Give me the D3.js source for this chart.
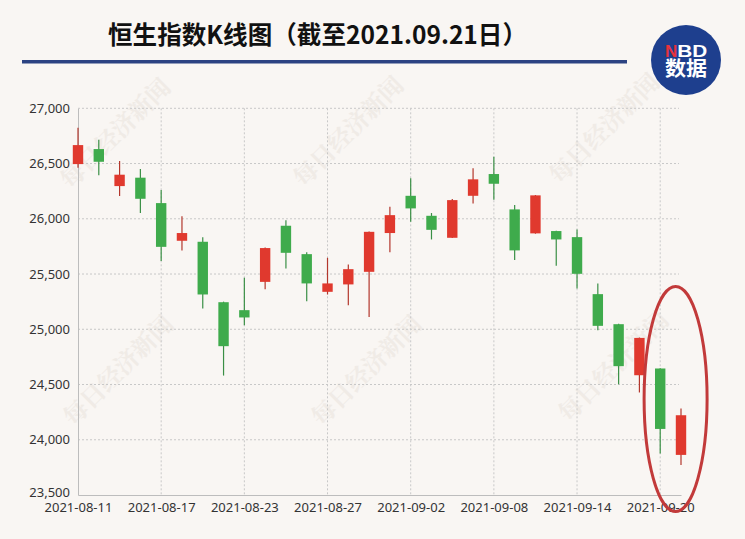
<!DOCTYPE html>
<html>
<head>
<meta charset="utf-8">
<script src="https://cdn.jsdelivr.net/npm/d3@7"></script>
<style>
  html, body { margin: 0; padding: 0; background: #f9f6f3; }
  svg { display: block; }
</style>
</head>
<body>
<svg id="chart" width="745" height="539"></svg>
<script>
// ---- data ----
const dates = ["2021-08-11","2021-08-12","2021-08-13","2021-08-16","2021-08-17","2021-08-18","2021-08-19","2021-08-20",
  "2021-08-23","2021-08-24","2021-08-25","2021-08-26","2021-08-27","2021-08-30","2021-08-31","2021-09-01",
  "2021-09-02","2021-09-03","2021-09-06","2021-09-07","2021-09-08","2021-09-09","2021-09-10","2021-09-13",
  "2021-09-14","2021-09-15","2021-09-16","2021-09-17","2021-09-20","2021-09-21"];
const openV  = [26495,26631,26296,26372,26142,25801,25792,25245,25173,25429,25937,25680,25339,25406,25520,25871,
  26208,26027,25828,26208,26405,26085,25868,25889,25834,25318,25046,24584,24645,23863];
const closeV = [26667,26516,26399,26181,25746,25871,25315,24847,25107,25735,25692,25415,25415,25544,25882,26033,
  26094,25900,26169,26357,26317,25714,26212,25813,25502,25031,24666,24922,24098,24222];
const highV  = [26824,26716,26523,26450,26260,26024,25834,25250,25466,25740,25986,25698,25647,25587,25885,26109,
  26366,26052,26178,26457,26562,26124,26215,25892,25904,25415,25050,24925,24648,24283];
const lowV   = [26462,26393,26206,26052,25617,25714,25188,24581,25037,25363,25551,25254,25315,25218,25112,25696,
  25973,25813,25826,26139,26172,25626,25865,25574,25370,24992,24503,24428,23875,23772];
const yTicks = [23500,24000,24500,25000,25500,26000,26500,27000];
const xTickLabels = ["2021-08-11","2021-08-17","2021-08-23","2021-08-27","2021-09-02","2021-09-08","2021-09-14","2021-09-20"];
const titleText = "恒生指数K线图（截至2021.09.21日）";
const watermark = "每日经济新闻";

const candles = dates.map((d,i)=>({date:d, open:openV[i], close:closeV[i], high:highV[i], low:lowV[i]}));

const svg = d3.select("#chart");
const W = 745, H = 539;
svg.append("rect").attr("width", W).attr("height", H).attr("fill", "#f9f6f3");

const pLeft = 78, pRight = 681, pTop = 108.3, pBottom = 495;
const x = d3.scalePoint().domain(dates).range([pLeft, pRight]);
const y = d3.scaleLinear().domain([23500, 27000]).range([pBottom, pTop]);

// watermarks
const wmPos = [[117,135],[350,133],[606,130],[120,372],[368,372],[615,368]];
svg.append("g").selectAll("text").data(wmPos).join("text")
  .attr("transform", d => `translate(${d[0]},${d[1]}) rotate(-45)`)
  .attr("text-anchor","middle").attr("dominant-baseline","middle")
  .attr("font-family","'Noto Serif CJK SC','Noto Sans CJK SC',serif")
  .attr("font-size",24).attr("font-weight","bold")
  .attr("fill","#eee9e4").attr("opacity",0.8)
  .text(watermark);

// title
svg.append("text").attr("x",108).attr("y",44)
  .attr("font-family","'Noto Sans CJK SC',sans-serif").attr("font-weight","bold")
  .attr("font-size",25).attr("fill","#111")
  .attr("textLength", 419).attr("lengthAdjust","spacingAndGlyphs")
  .text(titleText);
svg.append("line").attr("x1",22).attr("x2",627).attr("y1",61.7).attr("y2",61.7)
  .attr("stroke","#2c4382").attr("stroke-width",3.6);

// logo
const logo = svg.append("g").attr("transform","translate(686,60)");
logo.append("circle").attr("r",35).attr("fill","#1e3f8e");
const lt = logo.append("text").attr("font-weight","bold");
lt.append("tspan").attr("x",-21).attr("y",-3)
  .attr("font-family","'Liberation Sans',Arial,sans-serif").attr("font-size",17)
  .attr("fill","#e8323c").text("N");
lt.append("tspan").attr("font-family","'Liberation Sans',Arial,sans-serif").attr("font-size",17)
  .attr("fill","#fff").attr("textLength",30).attr("lengthAdjust","spacingAndGlyphs").text("BD");
lt.append("tspan").attr("x",-21).attr("y",16)
  .attr("font-family","'Noto Sans CJK SC',sans-serif").attr("font-size",20)
  .attr("fill","#fff").attr("textLength",42).attr("lengthAdjust","spacingAndGlyphs").text("数据");

// grid
const grid = svg.append("g");
grid.selectAll("line.h").data(yTicks.slice(1)).join("line")
  .attr("x1", pLeft).attr("x2", 679).attr("y1", d=>y(d)).attr("y2", d=>y(d))
  .attr("stroke","#c8c8c8").attr("stroke-dasharray","2,2").attr("stroke-width",1);
grid.selectAll("line.v").data(xTickLabels.slice(1)).join("line")
  .attr("x1", d=>x(d)).attr("x2", d=>x(d)).attr("y1", pTop).attr("y2", pBottom)
  .attr("stroke","#c8c8c8").attr("stroke-dasharray","2,2").attr("stroke-width",1);

// axes
const yAxis = svg.append("g").attr("transform",`translate(${pLeft},0)`)
  .call(d3.axisLeft(y).tickValues(yTicks).tickFormat(d3.format(",")).tickSize(0).tickPadding(8));
yAxis.select(".domain").attr("stroke","#bdbdbd");
yAxis.selectAll("text").attr("font-family","'Noto Sans',sans-serif").attr("font-size",13).attr("fill","#333")
  .attr("dy", d => d === 23500 ? "0.12em" : "0.32em");

const xAxis = svg.append("g").attr("transform",`translate(0,${pBottom})`)
  .call(d3.axisBottom(x).tickValues(xTickLabels).tickSize(0).tickPadding(8));
xAxis.select(".domain").attr("stroke","#bdbdbd");
xAxis.selectAll("text").attr("font-family","'Noto Sans',sans-serif").attr("font-size",13).attr("fill","#333");

// candles (red = up, green = down)
const upC = "#e0392e", downC = "#3fab4c";
const bw = x.step() * 0.5;
const cg = svg.append("g").selectAll("g").data(candles).join("g");
cg.append("line")
  .attr("x1", d=>x(d.date)).attr("x2", d=>x(d.date))
  .attr("y1", d=>y(d.high)).attr("y2", d=>y(d.low))
  .attr("stroke", d=> d.close >= d.open ? "#b3372c" : "#3a8f45").attr("stroke-width",1.2);
cg.append("rect")
  .attr("x", d=>x(d.date)-bw/2).attr("width", bw)
  .attr("y", d=>y(Math.max(d.open,d.close)))
  .attr("height", d=>Math.max(1, y(Math.min(d.open,d.close)) - y(Math.max(d.open,d.close))))
  .attr("fill", d=> d.close >= d.open ? upC : downC);

// annotation ellipse around last two candles
const ecx = (x(dates[28]) + x(dates[29]))/2 + 5;
svg.append("ellipse").attr("cx", ecx).attr("cy", 399).attr("rx", 31.5).attr("ry", 112.5)
  .attr("fill","none").attr("stroke","#c23a3a").attr("stroke-width",3);
</script>
</body>
</html>
